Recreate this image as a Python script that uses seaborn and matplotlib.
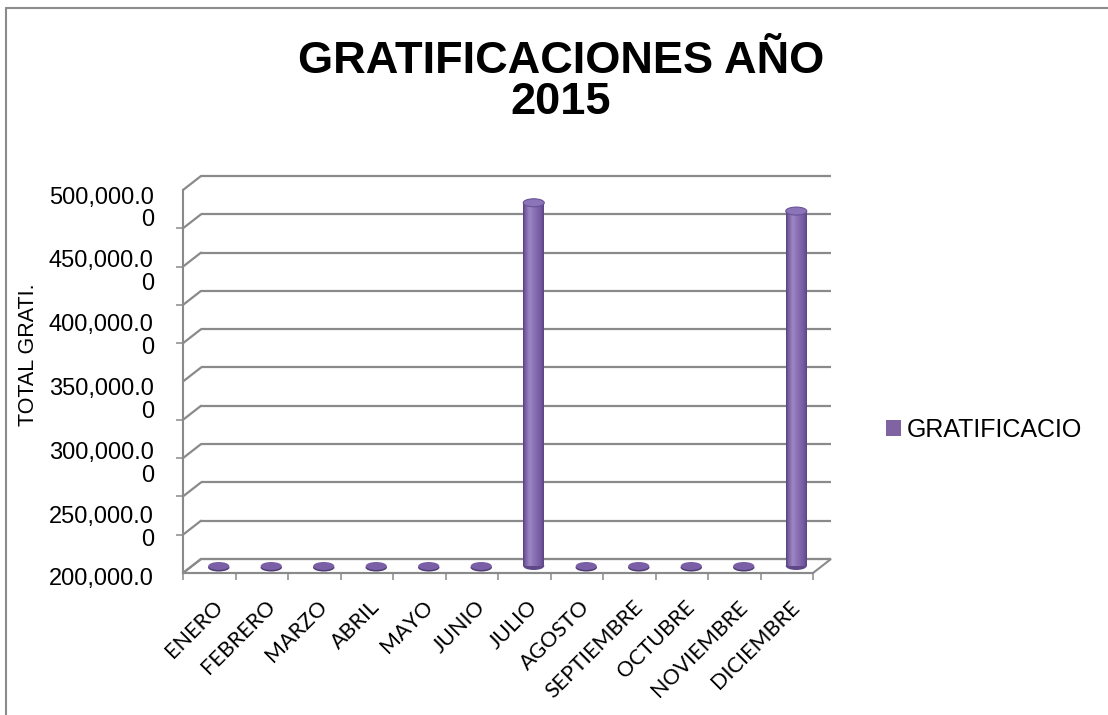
import numpy as np
import pandas as pd
import matplotlib
matplotlib.use("Agg")
import matplotlib.pyplot as plt
import seaborn as sns
from matplotlib.patches import Ellipse, Polygon
from matplotlib.colors import LinearSegmentedColormap
from matplotlib.transforms import ScaledTranslation
from matplotlib.lines import Line2D

# ---- data ---------------------------------------------------------------
MONTHS = ["ENERO", "FEBRERO", "MARZO", "ABRIL", "MAYO", "JUNIO", "JULIO",
          "AGOSTO", "SEPTIEMBRE", "OCTUBRE", "NOVIEMBRE", "DICIEMBRE"]
GRATIFICACION = [0, 0, 0, 0, 0, 0, 484500, 0, 0, 0, 0, 478000]
Y_TICKS = [200000, 250000, 300000, 350000, 400000, 450000, 500000]
Y_TICK_LABELS = ["200,000.0", "250,000.0\n0", "300,000.0\n0", "350,000.0\n0",
                 "400,000.0\n0", "450,000.0\n0", "500,000.0\n0"]
GRID_TICKS = [200000, 230000, 260000, 290000, 320000, 350000,
              380000, 410000, 440000, 470000, 500000]
TITLE = "GRATIFICACIONES AÑO\n2015"
Y_LABEL = "TOTAL GRATI."
SERIES = "GRATIFICACIO"

# ---- style --------------------------------------------------------------
PURPLE = "#8064A2"
GRID = "#8a8a8a"
CYL_CMAP = LinearSegmentedColormap.from_list(
    "cyl", [(0.0, "#57417c"), (0.12, "#7a5fa3"), (0.32, "#9c87c4"),
            (0.55, "#8a70b3"), (0.85, "#7358a0"), (1.0, "#5a4482")])

sns.set_style("white")
plt.rcParams["font.family"] = ["Liberation Sans", "DejaVu Sans"]
plt.rcParams["text.color"] = "black"
plt.rcParams["axes.labelcolor"] = "black"

W, H = 1108, 715
AX_L, AX_R, AX_B, AX_T = 183, 813, 573, 190          # front plane, pixels
fig = plt.figure(figsize=(W / 100, H / 100), dpi=100)
ax = fig.add_axes([AX_L / W, 1 - AX_B / H, (AX_R - AX_L) / W, (AX_B - AX_T) / H])

df = pd.DataFrame({"mes": MONTHS, "total": GRATIFICACION})
sns.barplot(data=df, x="mes", y="total", order=MONTHS, color=PURPLE,
            saturation=1, width=0.4, label=SERIES, ax=ax, zorder=3)
bars = list(ax.patches)

ymin, ymax = Y_TICKS[0], Y_TICKS[-1]
n = len(MONTHS)
ax.set_xlim(-0.5, n - 0.5)
ax.set_ylim(ymin, ymax)

# pixel -> data conversion for the oblique depth of the 3-D box
px_x = (AX_R - AX_L) / n
px_y = (AX_B - AX_T) / (ymax - ymin)
ddx, ddy = 18 / px_x, 14 / px_y          # back wall offset
mdx, mdy = 9.5 / px_x, 7 / px_y          # series plane (middle of depth)
ell_h = 8 / px_y

# floor
floor = Polygon([(-0.5, ymin), (n - 0.5, ymin), (n - 0.5 + ddx, ymin + ddy),
                 (-0.5 + ddx, ymin + ddy)], closed=True, fc="white",
                ec=GRID, lw=1.5, zorder=1, clip_on=False)
ax.add_patch(floor)

# back-wall gridlines and the side connectors
for t in GRID_TICKS:
    ax.plot([-0.5 + ddx, n - 0.5 + ddx], [t + ddy, t + ddy], color=GRID,
            lw=1.6, clip_on=False, zorder=1.5, solid_capstyle="butt")
    ax.plot([-0.5, -0.5 + ddx], [t, t + ddy], color=GRID, lw=1.6,
            clip_on=False, zorder=1.5)

# cylinders
grad = np.linspace(0, 1, 256).reshape(1, -1)
for patch, v in zip(bars, GRATIFICACION):
    w = patch.get_width()
    x0 = patch.get_x() + mdx
    xc = x0 + w / 2
    h = max(v - ymin, 0)
    patch.set_x(x0)
    patch.set_y(ymin + mdy)
    patch.set_height(h)
    patch.set_linewidth(0)
    if h > 0:
        ax.add_patch(Ellipse((xc, ymin + mdy), w, ell_h, fc="#5f4888",
                             lw=0, zorder=2.9))
        im = ax.imshow(grad, cmap=CYL_CMAP, aspect="auto", zorder=3.1,
                       extent=[x0, x0 + w, ymin + mdy, v + mdy])
        im.set_clip_path(patch)
        ax.add_patch(Ellipse((xc, v + mdy), w, ell_h, fc="#8c74b8",
                             ec="#6a5196", lw=0.8, zorder=3.2))
    else:
        ax.add_patch(Ellipse((xc, ymin + mdy - 1.5 / px_y), w * 1.02, ell_h,
                             fc="#4f3b73", lw=0, zorder=2.9))
        ax.add_patch(Ellipse((xc, ymin + mdy), w, ell_h, fc="#7a5fa6",
                             lw=0, zorder=3.0))

ax.set_xlim(-0.5, n - 0.5)
ax.set_ylim(ymin, ymax)

# spines and ticks
sns.despine(ax=ax)
for side in ("left", "bottom"):
    ax.spines[side].set_color(GRID)
    ax.spines[side].set_linewidth(1.5)
    ax.spines[side].set_zorder(1.6)

ax.set_yticks(Y_TICKS, Y_TICK_LABELS)
ax.set_yticks(GRID_TICKS, minor=True)
ax.tick_params(axis="y", which="major", left=True, length=0, pad=21,
               labelsize=17, labelcolor="black")
ax.tick_params(axis="y", which="minor", left=True, direction="out",
               length=5, width=1.1, color=GRID)
for lbl in ax.get_yticklabels():
    two_lines = "\n" in lbl.get_text()
    lbl.set_verticalalignment("center_baseline")
    lbl.set_linespacing(1.05)
    drop = (16 if two_lines else 3) / 100
    lbl.set_transform(lbl.get_transform()
                      + ScaledTranslation(0, -drop, fig.dpi_scale_trans))

ax.set_xticks(range(n), MONTHS)
ax.set_xticks(np.arange(-0.5, n), minor=True)
ax.tick_params(axis="x", which="minor", bottom=True, direction="out",
               length=5, width=1.1, color=GRID)
ax.tick_params(axis="x", which="major", bottom=True, length=0, pad=17,
               labelsize=15.5, labelcolor="black")
shift = ScaledTranslation(3 / 100, 0, fig.dpi_scale_trans)
for lbl in ax.get_xticklabels():
    lbl.set_rotation(45)
    lbl.set_horizontalalignment("right")
    lbl.set_verticalalignment("top")
    lbl.set_rotation_mode("anchor")
    lbl.set_fontfamily(["Lato", "DejaVu Sans"])
    lbl.set_transform(lbl.get_transform() + shift)

ax.set_xlabel("")
ax.set_ylabel(Y_LABEL, fontsize=15.5, color="black")
ax.yaxis.label.set_verticalalignment("center")
ax.yaxis.set_label_coords((28 - AX_L) / (AX_R - AX_L), (AX_B - 355) / (AX_B - AX_T))

ax.legend(loc="center left", bbox_to_anchor=(886 / W, 1 - 430 / H),
          bbox_transform=fig.transFigure, frameon=False, fontsize=18,
          handlelength=0.6, handleheight=0.6, handletextpad=0.22,
          borderpad=0, borderaxespad=0, labelcolor="black")

fig.text(561 / W, 1 - 82 / H, TITLE, ha="center", va="center", fontsize=32.5,
         fontweight="bold", linespacing=1.0, color="black")

# outer chart frame (top and left edges)
fig.add_artist(Line2D([6 / W, 6 / W], [0, 1 - 8 / H], transform=fig.transFigure,
                      color="#8c8c8c", lw=1.5))
fig.add_artist(Line2D([6 / W, 1], [1 - 8 / H, 1 - 8 / H], transform=fig.transFigure,
                      color="#8c8c8c", lw=1.5))

fig.savefig("out.png", dpi=100, facecolor="white")
